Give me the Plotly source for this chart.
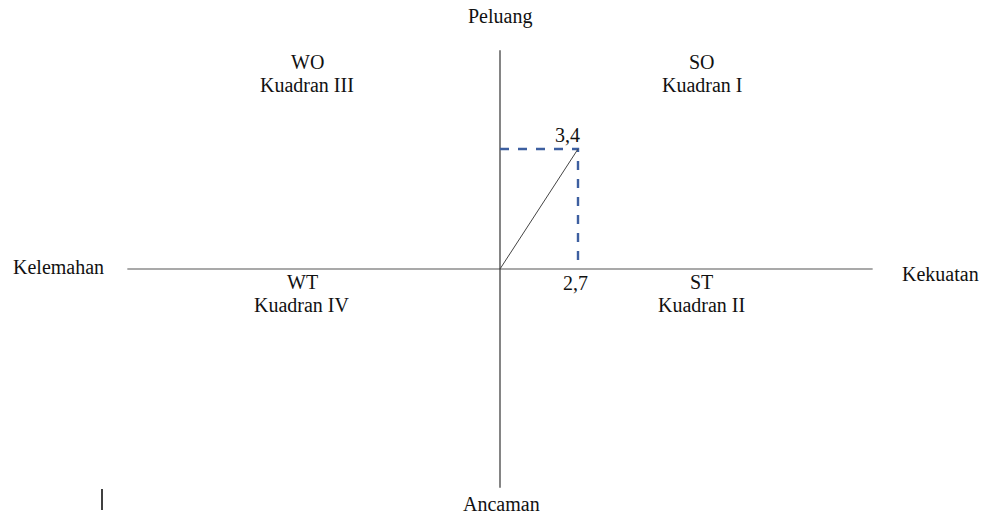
import plotly.graph_objects as go

# Data
strength_score = 2.7   # Kekuatan (x)
opportunity_score = 3.4  # Peluang (y)
x_label = "2,7"
y_label = "3,4"
axis_extent_x = 12.9
axis_extent_y = 6.2

axis_names = {"top": "Peluang", "bottom": "Ancaman", "left": "Kelemahan", "right": "Kekuatan"}
quadrants = [
    ("WO", "Kuadran III", 307, 62),
    ("SO", "Kuadran I", 702, 62),
    ("WT", "Kuadran IV", 302, 282),
    ("ST", "Kuadran II", 701, 282),
]

W, H = 982, 517
ox, oy = 500, 269
sx = 78 / 2.7
sy = 120 / 3.4
xr = [(0 - ox) / sx, (W - ox) / sx]
yr = [(oy - H) / sy, (oy - 0) / sy]

FONT = "Liberation Serif"
fs = 20

fig = go.Figure()
# axes
fig.add_trace(go.Scatter(x=[-axis_extent_x, axis_extent_x], y=[0, 0], mode="lines",
                         line=dict(color="#555555", width=1.2), hoverinfo="skip"))
fig.add_trace(go.Scatter(x=[0, 0], y=[-axis_extent_y, axis_extent_y], mode="lines",
                         line=dict(color="#333333", width=1.2), hoverinfo="skip"))
# dashed guide
fig.add_trace(go.Scatter(x=[0, strength_score, strength_score], y=[opportunity_score, opportunity_score, 0],
                         mode="lines", line=dict(color="#3D5FA0", width=2.4, dash="dash"), hoverinfo="skip"))
# diagonal
fig.add_trace(go.Scatter(x=[0, strength_score], y=[0, opportunity_score], mode="lines",
                         line=dict(color="#444444", width=1), hoverinfo="skip"))

def px_ann(text, px, py, **kw):
    fig.add_annotation(x=px / W, y=1 - py / H, xref="paper", yref="paper", text=text,
                       xanchor="center", yanchor="middle",
                       showarrow=False, font=dict(family=FONT, size=fs, color="#111111"), **kw)

px_ann(axis_names["top"], 500, 16)
px_ann(axis_names["bottom"], 501, 504)
px_ann(axis_names["left"], 58, 267)
px_ann(axis_names["right"], 940, 274)
for a, b, cx, cy in quadrants:
    px_ann(a, cx, cy)
    px_ann(b, cx, cy + 23)

fig.add_annotation(x=strength_score, y=opportunity_score, text=y_label, showarrow=False,
                   xanchor="center", yanchor="middle",
                   xshift=-11, yshift=14, font=dict(family=FONT, size=fs, color="#111111"))
fig.add_annotation(x=strength_score, y=0, text=x_label, showarrow=False,
                   xanchor="center", yanchor="middle",
                   xshift=-3, yshift=-14, font=dict(family=FONT, size=fs, color="#111111"))

# stray mark
fig.add_shape(type="line", xref="paper", yref="paper", x0=102 / W, x1=102 / W,
              y0=1 - 489 / H, y1=1 - 510 / H, line=dict(color="#000000", width=1.5))

fig.update_layout(width=W, height=H, margin=dict(l=0, r=0, t=0, b=0),
                  paper_bgcolor="white", plot_bgcolor="white", showlegend=False,
                  xaxis=dict(range=xr, visible=False, fixedrange=True),
                  yaxis=dict(range=yr, visible=False, fixedrange=True))
fig.write_html("out.html", config={"displayModeBar": False},
               post_script="document.body.style.margin='0';document.body.style.overflow='hidden';")
